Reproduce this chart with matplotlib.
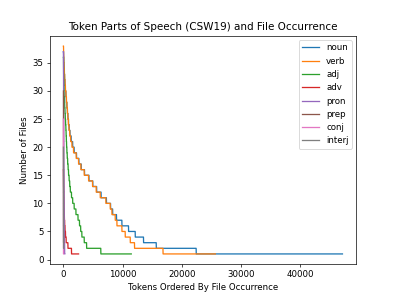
import numpy as np
import matplotlib
matplotlib.use("Agg")
import matplotlib.pyplot as plt

# File-count levels and the token index where each level ends (cumulative)
noun_levels = list(range(37, 0, -1))
noun_ends = [15, 40, 80, 130, 180, 240, 310, 400, 480, 570, 660, 750, 850, 960,
             1100, 1300, 1550, 1800, 2200, 2600, 3000, 3550, 4300, 4950, 5600,
             6350, 7250, 7950, 8300, 8950, 9860, 10980, 12110, 13510, 15660,
             22400, 47100]

verb_levels = list(range(38, 0, -1))
verb_ends = [10, 30, 60, 100, 150, 200, 260, 330, 420, 500, 580, 660, 740, 820,
             920, 1050, 1200, 1420, 1690, 2145, 2540, 2935, 3500, 4230, 4900,
             5520, 6200, 7150, 7890, 8170, 8730, 9020, 9860, 10420, 11270,
             11990, 16800, 25650]

adj_levels = list(range(36, 0, -1))
adj_ends = [10, 20, 30, 45, 60, 80, 100, 150, 200, 250, 300, 350, 400, 440,
            480, 520, 570, 630, 700, 780, 850, 950, 1050, 1150, 1350, 1550,
            1800, 2100, 2450, 2700, 2900, 3100, 3500, 3900, 6300, 11450]

adv_levels = list(range(16, 0, -1))
adv_ends = [5, 10, 20, 30, 45, 60, 80, 110, 150, 200, 260, 340, 450, 750,
            1350, 2550]

pron_levels = list(range(37, 0, -1))
pron_ends = [3, 6, 9, 12, 15, 18, 21, 24, 27, 30, 34, 38, 42, 46, 50, 55, 60,
             65, 70, 76, 82, 88, 94, 100, 107, 114, 121, 128, 136, 144, 152,
             160, 170, 180, 190, 200, 220]

prep_levels = list(range(30, 0, -3))
prep_ends = [1, 2, 3, 4, 6, 8, 10, 12, 15, 20]

conj_levels = list(range(25, 0, -4))
conj_ends = [1, 2, 3, 4, 6, 8, 10]

interj_levels = list(range(20, 0, -2))
interj_ends = [1, 2, 3, 4, 6, 8, 10, 14, 18, 24]

series = [
    ("noun", noun_levels, noun_ends),
    ("verb", verb_levels, verb_ends),
    ("adj", adj_levels, adj_ends),
    ("adv", adv_levels, adv_ends),
    ("pron", pron_levels, pron_ends),
    ("prep", prep_levels, prep_ends),
    ("conj", conj_levels, conj_ends),
    ("interj", interj_levels, interj_ends),
]

fig, ax = plt.subplots(figsize=(6.4, 4.8), dpi=61.875)
for name, levels, ends in series:
    counts = np.diff(np.concatenate([[0], ends]))
    seq = np.repeat(levels, counts)
    ax.plot(np.arange(len(seq)), seq, label=name)

ax.set_title("Token Parts of Speech (CSW19) and File Occurrence")
ax.set_xlabel("Tokens Ordered By File Occurrence")
ax.set_ylabel("Number of Files")
ax.legend(loc="upper right")
fig.savefig("out.png", dpi=61.875)
